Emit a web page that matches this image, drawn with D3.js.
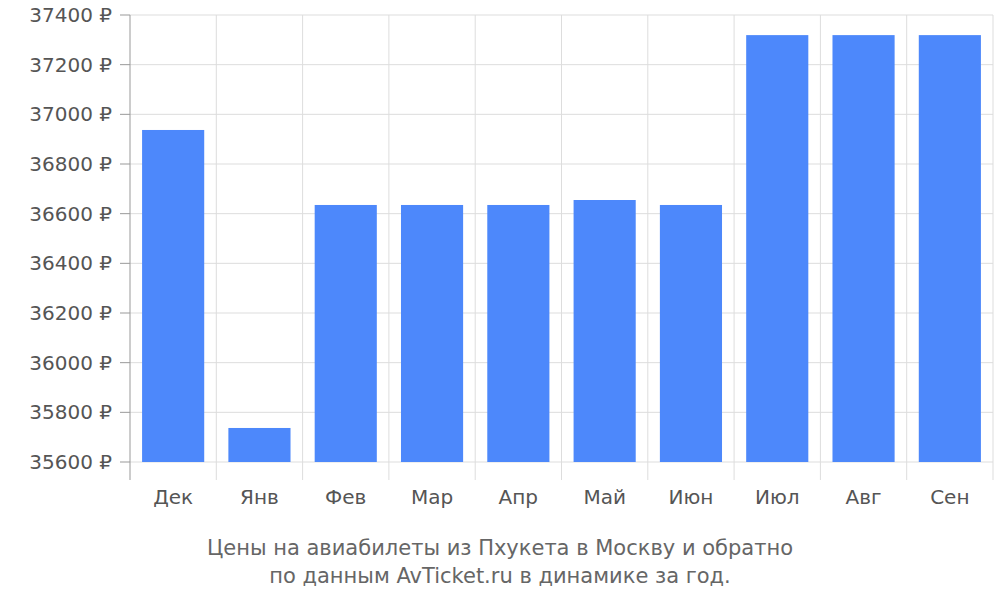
<!DOCTYPE html>
<html><head><meta charset="utf-8">
<script src="https://cdn.jsdelivr.net/npm/d3@7"></script>
<style>body{margin:0;background:#fff}text{font-family:"DejaVu Sans",sans-serif}</style>
</head><body><svg id="c" width="1000" height="600"></svg>
<script>
const months = ["Дек","Янв","Фев","Мар","Апр","Май","Июн","Июл","Авг","Сен"];
const prices = [36937,35737,36635,36635,36635,36655,36635,37319,37319,37319];
const yTicks = [35600,35800,36000,36200,36400,36600,36800,37000,37200,37400];
const titleLines = ["Цены на авиабилеты из Пхукета в Москву и обратно","по данным AvTicket.ru в динамике за год."];

const svg = d3.select("#c");
const L=130,R=993,T=15,B=462;
const x = d3.scaleBand().domain(months).range([L,R]).paddingInner(0.28).paddingOuter(0.14);
const y = d3.scaleLinear().domain([35600,37400]).range([B,T]);
const step = x.step();
const bounds = d3.range(months.length+1).map(i=>L+i*step);

// grid
svg.append("g").selectAll("line").data(yTicks).join("line")
  .attr("x1",L).attr("x2",R).attr("y1",d=>y(d)).attr("y2",d=>y(d))
  .attr("stroke","#ddd").attr("stroke-width",1);
svg.append("g").selectAll("line").data(bounds).join("line")
  .attr("x1",d=>d).attr("x2",d=>d).attr("y1",T).attr("y2",B+18)
  .attr("stroke",(d,i)=>i===0?"#999":"#ddd").attr("stroke-width",1);
// y ticks
svg.append("g").selectAll("line").data(yTicks).join("line")
  .attr("x1",L-10).attr("x2",L).attr("y1",d=>y(d)).attr("y2",d=>y(d)).attr("stroke","#999");
svg.append("g").selectAll("text").data(yTicks).join("text")
  .attr("x",L-18).attr("y",d=>y(d)).attr("dy","0.35em").attr("text-anchor","end")
  .attr("font-size",20).attr("fill","#555").text(d=>d+" ₽");
// bars
svg.append("g").selectAll("rect").data(months).join("rect")
  .attr("x",d=>x(d)).attr("width",x.bandwidth())
  .attr("y",(d,i)=>y(prices[i])).attr("height",(d,i)=>B-y(prices[i]))
  .attr("fill","#4d88fb");
// x labels
svg.append("g").selectAll("text").data(months).join("text")
  .attr("x",d=>x(d)+x.bandwidth()/2).attr("y",504).attr("text-anchor","middle")
  .attr("font-size",20).attr("fill","#555").text(d=>d);
// title
svg.append("g").selectAll("text").data(titleLines).join("text")
  .attr("x",500).attr("y",(d,i)=>555+i*28).attr("text-anchor","middle")
  .attr("font-size",21).attr("fill","#666").text(d=>d);
</script></body></html>
